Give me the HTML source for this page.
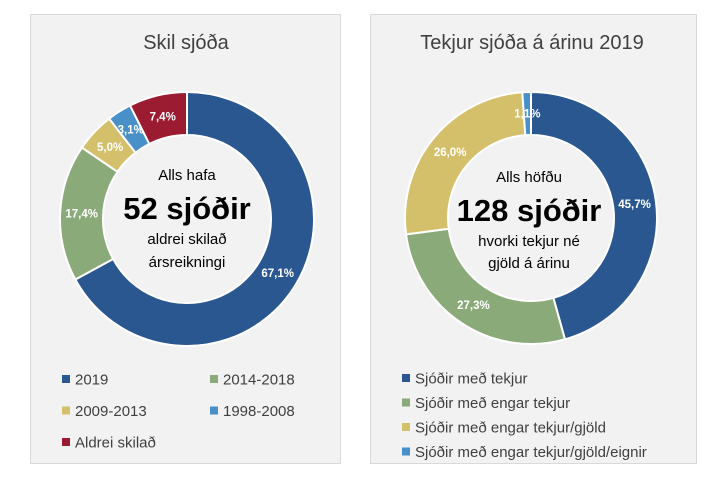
<!DOCTYPE html>
<html><head><meta charset="utf-8"><style>
body{margin:0;width:720px;height:480px;background:#fff;font-family:"Segoe UI","Liberation Sans","DejaVu Sans",sans-serif;}
svg text{font-family:"Liberation Sans","DejaVu Sans",sans-serif;}
</style></head><body>
<svg width="720" height="480" viewBox="0 0 720 480" xmlns="http://www.w3.org/2000/svg">
<rect x="30.5" y="14.5" width="310" height="449" fill="#F2F2F2" stroke="#D9D9D9"/>
<rect x="370.5" y="14.5" width="326" height="449" fill="#F2F2F2" stroke="#D9D9D9"/>
<text x="186" y="49" text-anchor="middle" font-size="20" fill="#404040">Skil sjóða</text>
<text x="532" y="49" text-anchor="middle" font-size="20" fill="#404040">Tekjur sjóða á árinu 2019</text>
<g id="left"></g>
<g id="right"></g>
<g text-anchor="middle">
<text x="187" y="180" font-size="15" fill="#000">Alls hafa</text>
<text x="187" y="219" font-size="31" font-weight="bold" fill="#000">52 sjóðir</text>
<text x="187" y="244" font-size="15" fill="#000">aldrei skilað</text>
<text x="187" y="267" font-size="15" fill="#000">ársreikningi</text>
</g>
<g text-anchor="middle">
<text x="529" y="182" font-size="15" fill="#000">Alls höfðu</text>
<text x="529" y="221" font-size="31" font-weight="bold" fill="#000">128 sjóðir</text>
<text x="529" y="246" font-size="15" fill="#000">hvorki tekjur né</text>
<text x="529" y="268" font-size="15" fill="#000">gjöld á árinu</text>
</g>
<g id="legL"></g>
<g id="legR"></g>
</svg>
<script>
const leftCategories=["2019","2014-2018","2009-2013","1998-2008","Aldrei skilað"];
const leftValues=[67.1,17.4,5.0,3.1,7.4];
const rightCategories=["Sjóðir með tekjur","Sjóðir með engar tekjur","Sjóðir með engar tekjur/gjöld","Sjóðir með engar tekjur/gjöld/eignir"];
const rightValues=[45.7,27.3,26.0,1.1];
const leftColors=["#2A578F","#8BAA7A","#D4C06A","#4A90C8","#9B1B30"];
const rightColors=["#2A578F","#8BAA7A","#D4C06A","#4A90C8"];
const NS="http://www.w3.org/2000/svg";
function pt(cx,cy,r,a){return [cx+r*Math.sin(a),cy-r*Math.cos(a)];}
function donut(g,cx,cy,R,r,vals,cols,names){
  const tot=vals.reduce((a,b)=>a+b,0);let a0=0;
  vals.forEach((v,i)=>{
    const a1=a0+v/tot*2*Math.PI;const lg=(a1-a0)>Math.PI?1:0;
    const p1=pt(cx,cy,R,a0),p2=pt(cx,cy,R,a1),p3=pt(cx,cy,r,a1),p4=pt(cx,cy,r,a0);
    const p=document.createElementNS(NS,"path");
    p.setAttribute("d",`M${p1}A${R},${R} 0 ${lg} 1 ${p2}L${p3}A${r},${r} 0 ${lg} 0 ${p4}Z`);
    p.setAttribute("fill",cols[i]);p.setAttribute("stroke","#fff");p.setAttribute("stroke-width","2");
    
    
    g.appendChild(p);
    const m=pt(cx,cy,(R+r)/2,(a0+a1)/2);
    const t=document.createElementNS(NS,"text");
    t.setAttribute("x",m[0]);t.setAttribute("y",m[1]+4);t.setAttribute("text-anchor","middle");
    t.setAttribute("font-size","11.5");t.setAttribute("font-weight","bold");t.setAttribute("fill","#fff");
    t.textContent=v.toFixed(1).replace(".",",")+"%";
    
    
    g.appendChild(t);
    a0=a1;
  });
}
donut(document.getElementById("left"),187,219,127,84,leftValues,leftColors,leftCategories);
donut(document.getElementById("right"),531,218,126,83,rightValues,rightColors,rightCategories);
function legItem(g,x,y,col,label){
  const r=document.createElementNS(NS,"rect");
  r.setAttribute("x",x);r.setAttribute("y",y-4);r.setAttribute("width",8);r.setAttribute("height",8);r.setAttribute("fill",col);
  
  
  g.appendChild(r);
  const t=document.createElementNS(NS,"text");
  t.setAttribute("x",x+13);t.setAttribute("y",y+5.5);t.setAttribute("font-size","15");t.setAttribute("fill","#404040");
  t.textContent=label;
  
  
  g.appendChild(t);
}
const gl=document.getElementById("legL");
leftCategories.forEach((c,i)=>legItem(gl,i%2?210:62,379+Math.floor(i/2)*31.5,leftColors[i],c));
const gr=document.getElementById("legR");
rightCategories.forEach((c,i)=>legItem(gr,402,378+i*24.5,rightColors[i],c));
</script>
</body></html>
